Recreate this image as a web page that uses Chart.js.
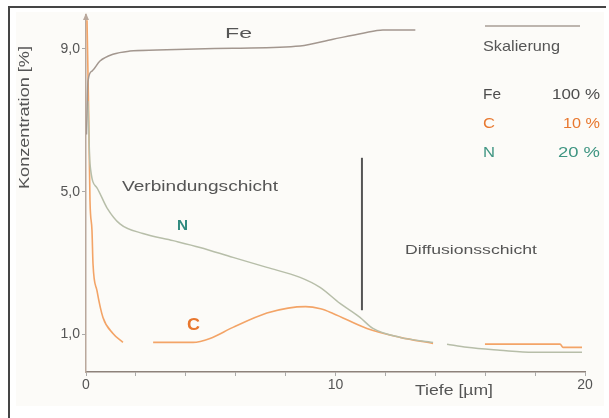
<!DOCTYPE html>
<html>
<head>
<meta charset="utf-8">
<script src="https://cdn.jsdelivr.net/npm/chart.js@4"></script>
<style>
html,body{margin:0;padding:0;background:#fff}
canvas{display:block}
</style>
</head>
<body>
<canvas id="profil" width="609" height="418"></canvas>
<script>
// Tiefe in µm, Konzentration in % (skaliert)
const feX = [0.02, 0.08, 0.24, 0.56, 1.08, 1.76, 2.85, 5.9, 8.58, 9.9, 11.1, 11.9, 13.2]
const feY = [6.6, 8.1, 8.38, 8.66, 8.85, 8.94, 8.97, 9.02, 9.08, 9.27, 9.44, 9.53, 9.53]

const cX = [0.04, 0.1, 0.16, 0.24, 0.28, 0.44, 0.68, 1.08, 1.48, 2.1, 2.69, 4.29, 4.97, 5.89, 7.25, 8.1, 8.8, 9.4, 9.9, 11.26, 12.59, 13.91, 15.0, 15.99, 19.0, 19.12, 19.88]
const cY = [9.8, 7.5, 4.75, 3.91, 2.99, 2.23, 1.48, 1.03, 0.78, null, 0.78, 0.78, 0.89, 1.2, 1.6, 1.74, 1.78, 1.72, 1.59, 1.17, 0.92, 0.75, null, 0.73, 0.73, 0.64, 0.64]

const nX = [0.08, 0.16, 0.44, 0.84, 1.36, 2.28, 3.49, 4.57, 5.89, 7.25, 8.58, 9.38, 10.18, 10.98, 11.5, 12.59, 13.91, 14.2, 14.47, 15.27, 16.59, 17.92, 19.88]
const nY = [7.54, 5.78, 5.11, 4.55, 4.1, 3.83, 3.63, 3.44, 3.16, 2.88, 2.6, 2.32, 1.87, 1.48, 1.17, 0.92, 0.78, null, 0.73, 0.64, 0.56, 0.5, 0.5]

// Grenze Verbindungsschicht / Diffusionsschicht
const grenzeX = [11.06, 11.06]
const grenzeY = [1.68, 5.95]

const yTicks = [1, 5, 9]
const xLabels = [0, 10, 20]

const skalierung = [
  {name: 'Fe', wert: '100 %', farbe: '#4d4d4d'},
  {name: 'C', wert: '10 %', farbe: '#e8782f'},
  {name: 'N', wert: '20 %', farbe: '#3f9582'}
]

function punkte(xs, ys) {
  return xs.map((x, i) => ({x: x, y: ys[i]}))
}

// Text auf feste Breite strecken
function txt(ctx, s, x, y, w, font, farbe) {
  ctx.save()
  ctx.font = font
  const m = ctx.measureText(s).width
  ctx.translate(x, y)
  ctx.scale(w / m, 1)
  ctx.fillStyle = farbe
  ctx.textAlign = 'left'
  ctx.textBaseline = 'middle'
  ctx.fillText(s, 0, 0)
  ctx.restore()
}

const deko = {
  id: 'deko',
  beforeDraw(chart) {
    const ctx = chart.ctx
    ctx.save()
    ctx.fillStyle = '#fcfbf8'
    ctx.fillRect(16, 12, 588, 394)
    ctx.strokeStyle = '#454545'
    ctx.lineWidth = 2
    ctx.beginPath()
    ctx.moveTo(8, 7); ctx.lineTo(606, 7)
    ctx.moveTo(9, 7); ctx.lineTo(9, 418)
    ctx.stroke()
    ctx.restore()
  },
  afterDraw(chart) {
    const ctx = chart.ctx
    const a = chart.chartArea
    const f = '"Liberation Sans", Arial, sans-serif'
    ctx.save()
    // Pfeil an der y-Achse
    ctx.fillStyle = '#b9a89c'
    ctx.beginPath()
    ctx.moveTo(a.left, a.top - 2)
    ctx.lineTo(a.left - 3, a.top + 5)
    ctx.lineTo(a.left + 3, a.top + 5)
    ctx.closePath()
    ctx.fill()
    // Legendenstrich
    ctx.strokeStyle = '#a89e96'
    ctx.lineWidth = 1.5
    ctx.beginPath()
    ctx.moveTo(485, 26); ctx.lineTo(580, 26)
    ctx.stroke()
    ctx.restore()

    txt(ctx, 'Fe', 225, 34, 27, '14px ' + f, '#555')
    txt(ctx, 'Verbindungschicht', 122, 187, 156, '14px ' + f, '#555')
    txt(ctx, 'N', 177, 226, 11, 'bold 15px ' + f, '#2f8a7e')
    txt(ctx, 'C', 187, 326, 13, 'bold 16px ' + f, '#e8772e')
    txt(ctx, 'Diffusionsschicht', 405, 250, 132, '13px ' + f, '#555')
    txt(ctx, 'Tiefe [µm]', 415, 391, 78, '14px ' + f, '#555')

    txt(ctx, 'Skalierung', 483, 47, 77, '15px ' + f, '#555')
    const zeilenY = [95, 124, 153]
    const nameBreite = [18, 12, 12]
    const wertBreite = [48, 37, 42]
    skalierung.forEach((s, i) => {
      txt(ctx, s.name, 483, zeilenY[i], nameBreite[i], '15px ' + f, s.farbe)
      txt(ctx, s.wert, 600 - wertBreite[i], zeilenY[i], wertBreite[i], '15px ' + f, s.farbe)
    })

    ctx.save()
    ctx.translate(25, 118)
    ctx.rotate(-Math.PI / 2)
    txt(ctx, 'Konzentration [%]', -71, 0, 143, '14px ' + f, '#555')
    ctx.restore()
  }
}

const linie = (label, xs, ys, farbe, breite) => ({
  label: label,
  data: punkte(xs, ys),
  borderColor: farbe,
  borderWidth: breite,
  pointRadius: 0,
  cubicInterpolationMode: 'monotone',
  spanGaps: false,
  fill: false
})

const config = {
  type: 'line',
  data: {
    datasets: [
      linie('Fe', feX, feY, '#a3978f', 1.5),
      linie('N', nX, nY, '#b7bea9', 1.5),
      linie('C', cX, cY, '#f3a467', 1.6),
      {
        label: 'Grenze',
        data: punkte(grenzeX, grenzeY),
        borderColor: '#555',
        borderWidth: 2,
        pointRadius: 0
      }
    ]
  },
  options: {
    responsive: false,
    animation: false,
    devicePixelRatio: 1,
    layout: {padding: {top: 15, right: 24, left: 0, bottom: 0}},
    plugins: {legend: {display: false}, tooltip: {enabled: false}},
    scales: {
      x: {
        type: 'linear',
        min: 0,
        max: 20,
        afterFit(scale) { scale.height = 46 },
        border: {color: '#8d827b', width: 1.5},
        grid: {drawOnChartArea: false, tickLength: 4, color: '#aaa'},
        ticks: {
          stepSize: 2,
          autoSkip: false,
          maxRotation: 0,
          padding: 1,
          color: '#555',
          font: {family: '"Liberation Sans", Arial, sans-serif', size: 14},
          callback: v => xLabels.includes(v) ? String(v) : ''
        }
      },
      y: {
        min: -0.05,
        max: 9.95,
        afterFit(scale) { scale.width = 86 },
        afterBuildTicks(scale) { scale.ticks = yTicks.map(v => ({value: v})) },
        border: {color: '#b9a89c', width: 1.5},
        grid: {drawOnChartArea: false, tickLength: 4, color: '#aaa'},
        ticks: {
          padding: 2,
          color: '#555',
          font: {family: '"Liberation Sans", Arial, sans-serif', size: 14},
          callback: v => v.toFixed(1).replace('.', ',')
        }
      }
    }
  },
  plugins: [deko]
}

let myChart = new Chart(document.getElementById('profil'), config)
</script>
</body>
</html>
